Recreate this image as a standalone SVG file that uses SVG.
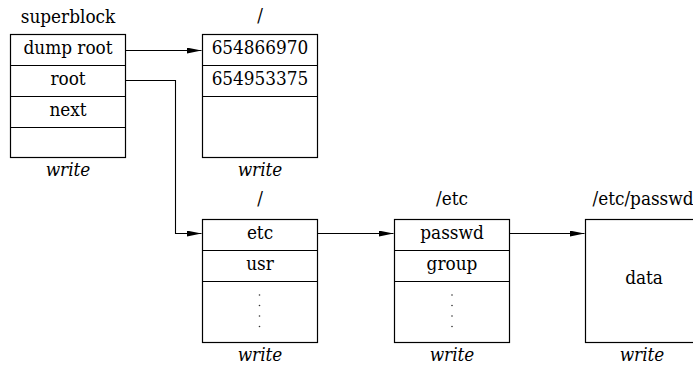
<svg xmlns="http://www.w3.org/2000/svg" width="693" height="366" viewBox="0 0 693 366">
<defs>
<style>
text{font-family:"DejaVu Serif Condensed","DejaVu Serif",serif;font-stretch:condensed;font-size:18.8px;fill:#000;text-anchor:middle}
.it{font-style:italic}
.box{fill:#fff;stroke:#000;stroke-width:1.2}
.div{stroke:#000;stroke-width:1.2}
.conn{fill:none;stroke:#000;stroke-width:1.1}
.dot{fill:#333}
</style>
<marker id="ah" markerUnits="userSpaceOnUse" markerWidth="16" markerHeight="6" refX="15" refY="3" orient="auto">
<path d="M0,0 L15,3 L0,6 z" fill="#000"/>
</marker>
</defs>
<g id="superblock">
<text x="68" y="23">superblock</text>
<rect class="box" x="10.5" y="34.5" width="115" height="123"/>
<line class="div" x1="10.5" y1="65.5" x2="125.5" y2="65.5"/>
<line class="div" x1="10.5" y1="96.5" x2="125.5" y2="96.5"/>
<line class="div" x1="10.5" y1="127.5" x2="125.5" y2="127.5"/>
<text x="68" y="54">dump root</text>
<text x="68" y="85">root</text>
<text x="68" y="116">next</text>
<text class="it" x="68" y="176">write</text>
</g>
<g id="dumproot">
<text x="260" y="22">/</text>
<rect class="box" x="202.5" y="34.5" width="115" height="123"/>
<line class="div" x1="202.5" y1="65.5" x2="317.5" y2="65.5"/>
<line class="div" x1="202.5" y1="96.5" x2="317.5" y2="96.5"/>
<text x="260" y="54">654866970</text>
<text x="260" y="85">654953375</text>
<text class="it" x="260" y="176">write</text>
</g>
<g id="root">
<text x="260" y="205">/</text>
<rect class="box" x="202.5" y="219.5" width="115" height="123"/>
<line class="div" x1="202.5" y1="250.5" x2="317.5" y2="250.5"/>
<line class="div" x1="202.5" y1="281.5" x2="317.5" y2="281.5"/>
<text x="260" y="239">etc</text>
<text x="260" y="270">usr</text>
<circle class="dot" cx="259.5" cy="295" r="0.8"/>
<circle class="dot" cx="259.5" cy="305.5" r="0.8"/>
<circle class="dot" cx="259.5" cy="316" r="0.8"/>
<circle class="dot" cx="259.5" cy="326.5" r="0.8"/>
<text class="it" x="260" y="361">write</text>
</g>
<g id="etc">
<text x="452" y="205">/etc</text>
<rect class="box" x="394.5" y="219.5" width="115" height="123"/>
<line class="div" x1="394.5" y1="250.5" x2="509.5" y2="250.5"/>
<line class="div" x1="394.5" y1="281.5" x2="509.5" y2="281.5"/>
<text x="452" y="239">passwd</text>
<text x="452" y="270">group</text>
<circle class="dot" cx="452" cy="295" r="0.8"/>
<circle class="dot" cx="452" cy="305.5" r="0.8"/>
<circle class="dot" cx="452" cy="316" r="0.8"/>
<circle class="dot" cx="452" cy="326.5" r="0.8"/>
<text class="it" x="452" y="361">write</text>
</g>
<g id="passwd">
<text x="643" y="205">/etc/passwd</text>
<rect class="box" x="585.5" y="219.5" width="115" height="123"/>
<text x="644" y="284">data</text>
<text class="it" x="642" y="361">write</text>
</g>
<g id="connectors">
<path class="conn" d="M125.5,50.5 H201.5" marker-end="url(#ah)"/>
<path class="conn" d="M125.5,80.5 H175.5 V233.5 H201.5" marker-end="url(#ah)"/>
<path class="conn" d="M317.5,233.5 H393.5" marker-end="url(#ah)"/>
<path class="conn" d="M509.5,233.5 H584.5" marker-end="url(#ah)"/>
</g>
</svg>
